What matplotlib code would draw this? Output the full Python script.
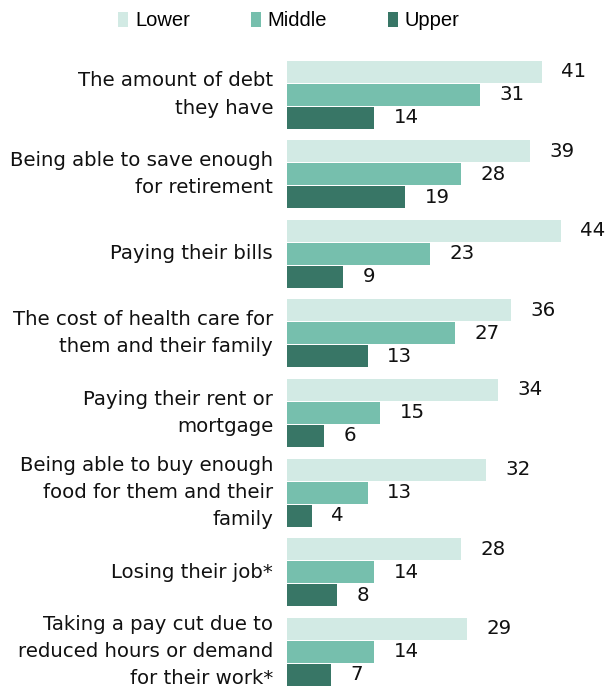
import numpy as np
import matplotlib.pyplot as plt

plt.rcParams['font.family'] = ['DejaVu Sans']

# Share of adults worried "a lot" about each item, by income tier
categories = [
    "The amount of debt\nthey have",
    "Being able to save enough\nfor retirement",
    "Paying their bills",
    "The cost of health care for\nthem and their family",
    "Paying their rent or\nmortgage",
    "Being able to buy enough\nfood for them and their\nfamily",
    "Losing their job*",
    "Taking a pay cut due to\nreduced hours or demand\nfor their work*",
]
lower = [41, 39, 44, 36, 34, 32, 28, 29]
middle = [31, 28, 23, 27, 15, 13, 14, 14]
upper = [14, 19, 9, 13, 6, 4, 8, 7]

series = [("Lower", lower, "#D2EAE4"),
          ("Middle", middle, "#76BFAD"),
          ("Upper", upper, "#387666")]

W, H = 608, 687
fig = plt.figure(figsize=(W / 100, H / 100), dpi=100)
ax = fig.add_axes([287 / W, 0, 1 - 287 / W, 1])

step = 79.6          # pixels between group centres
bar_h = 22 / step
offset = 23 / step
y = np.arange(len(categories))

for k, (name, vals, col) in enumerate(series):
    pos = y + (k - 1) * offset
    ax.barh(pos, vals, height=bar_h, color=col, label=name)
    for p, v in zip(pos, vals):
        ax.annotate(f"{v}", (v, p), xytext=(14, 0), textcoords="offset points",
                    ha="left", va="center", fontsize=14.2, color="#111111")

ax.set_xlim(0, (W - 287) / 6.22)
ax.set_ylim((H - 94.5) / step, -94.5 / step)
ax.axis("off")

for i, cat in enumerate(categories):
    ax.annotate(cat, (0, i), xytext=(-10, 0), textcoords="offset points",
                ha="right", va="center", fontsize=14.2, color="#111111",
                linespacing=1.55)

fig.legend(loc="center", bbox_to_anchor=(289 / W, 1 - 21 / H), ncol=3,
           frameon=False, prop={"family": "Liberation Sans", "size": 14.5},
           handlelength=0.5, handleheight=0.8,
           handletextpad=0.35, columnspacing=3.0)

fig.savefig("out.png", dpi=100)
